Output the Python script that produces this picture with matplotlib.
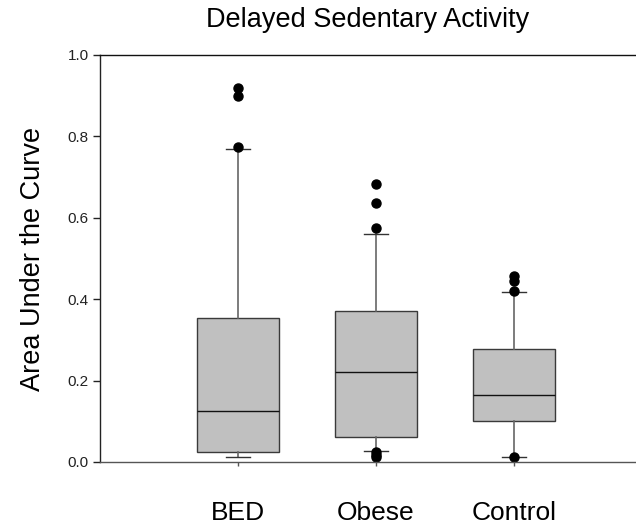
import matplotlib.pyplot as plt

plt.rcParams["font.family"] = ["Liberation Sans", "DejaVu Sans"]

groups = ["BED", "Obese", "Control"]

# box statistics per group (whiskers at 10th/90th percentile)
q1 = [0.024, 0.061, 0.100]
medians = [0.125, 0.220, 0.164]
q3 = [0.353, 0.370, 0.277]
whisker_low = [0.013, 0.028, 0.012]
whisker_high = [0.769, 0.561, 0.417]

# points outside the whiskers
outliers = [
    [0.775, 0.899, 0.918],
    [0.012, 0.018, 0.025, 0.575, 0.637, 0.684],
    [0.012, 0.420, 0.445, 0.457],
]

stats = []
for i, name in enumerate(groups):
    stats.append({
        "label": name,
        "q1": q1[i],
        "med": medians[i],
        "q3": q3[i],
        "whislo": whisker_low[i],
        "whishi": whisker_high[i],
        "fliers": outliers[i],
    })

fig = plt.figure(figsize=(6.36, 5.29), dpi=100)
ax = fig.add_axes([0.1572, 0.1267, 0.8428, 0.7694])

ax.bxp(
    stats,
    positions=[1, 2, 3],
    widths=0.6,
    capwidths=0.17,
    patch_artist=True,
    boxprops=dict(facecolor="#c0c0c0", edgecolor="#3a3a3a", linewidth=1.0),
    medianprops=dict(color="#111111", linewidth=1.0),
    whiskerprops=dict(color="#666666", linewidth=1.2),
    capprops=dict(color="#333333", linewidth=1.0),
    flierprops=dict(marker="o", markerfacecolor="black", markeredgecolor="black",
                    markersize=6.5, linestyle="none"),
)

ax.set_xlim(0, 3.884)
ax.set_ylim(0, 1.0)
ax.set_yticks([0.0, 0.2, 0.4, 0.6, 0.8, 1.0])
ax.set_yticklabels(["0.0", "0.2", "0.4", "0.6", "0.8", "1.0"])
ax.set_xticks([1, 2, 3])
ax.set_xticklabels(groups)

ax.spines["right"].set_visible(False)
ax.spines["top"].set_color("#111111")
ax.spines["left"].set_color("#222222")
ax.spines["bottom"].set_color("#555555")
for s in ["top", "left", "bottom"]:
    ax.spines[s].set_linewidth(1.0)

ax.tick_params(axis="y", direction="out", length=5, width=1, labelsize=11, pad=3,
               colors="#222222")
ax.tick_params(axis="x", direction="out", length=3, width=1, labelsize=19, pad=25,
               colors="#555555", labelcolor="black")

ax.set_ylabel("Area Under the Curve", fontsize=19.5, labelpad=16)
ax.set_title("Delayed Sedentary Activity", fontsize=19.5, pad=20)

fig.savefig("out.png", dpi=100)
